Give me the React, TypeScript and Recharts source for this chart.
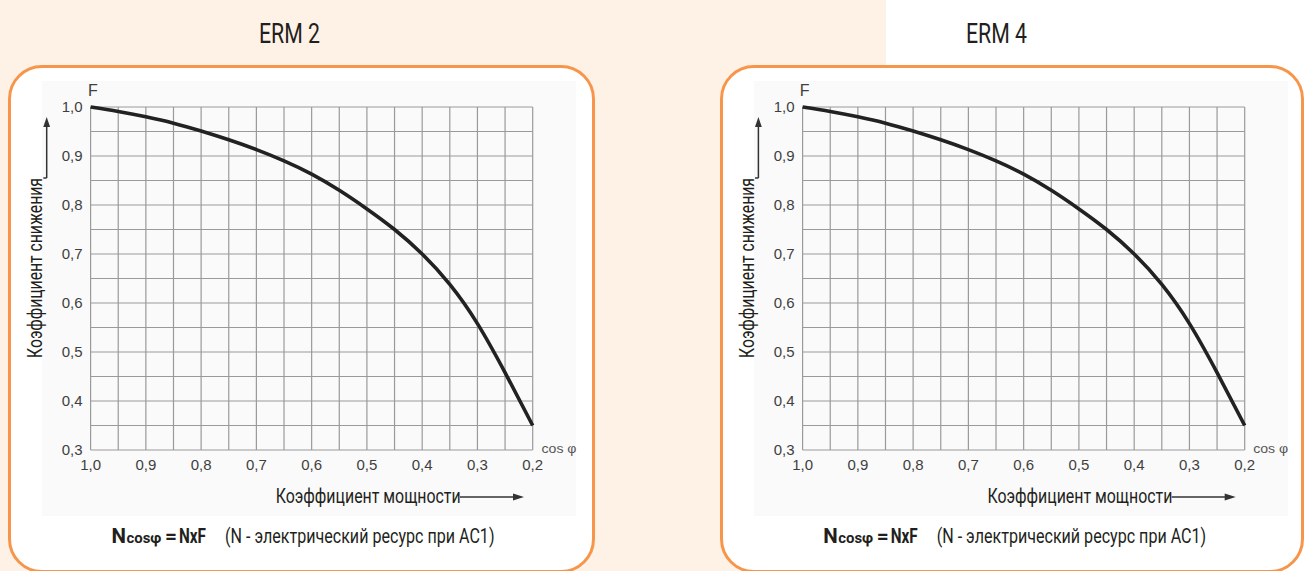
import React from 'react';
import { LineChart, Line, XAxis, YAxis, CartesianGrid } from 'recharts';

// ---- data ----
const cosPhi = [1.0, 0.95, 0.9, 0.85, 0.8, 0.75, 0.7, 0.65, 0.6, 0.55, 0.5, 0.45, 0.4, 0.35, 0.3, 0.25, 0.2];
const erm2F = [1.0, 0.991, 0.98, 0.967, 0.951, 0.933, 0.913, 0.89, 0.863, 0.83, 0.792, 0.75, 0.7, 0.638, 0.558, 0.458, 0.35];
const erm4F = [1.0, 0.991, 0.98, 0.967, 0.951, 0.933, 0.913, 0.89, 0.863, 0.83, 0.792, 0.75, 0.7, 0.638, 0.558, 0.458, 0.35];
const xTicks = [1.0, 0.95, 0.9, 0.85, 0.8, 0.75, 0.7, 0.65, 0.6, 0.55, 0.5, 0.45, 0.4, 0.35, 0.3, 0.25, 0.2];
const yTicks = [0.3, 0.35, 0.4, 0.45, 0.5, 0.55, 0.6, 0.65, 0.7, 0.75, 0.8, 0.85, 0.9, 0.95, 1.0];
const panelTitles = ['ERM 2', 'ERM 4'];
const yAxisTitle = 'Коэффициент снижения';
const xAxisTitle = 'Коэффициент мощности';
const formulaBold = ['N', 'cosφ', '=', 'NxF'];
const formulaNote = '(N - электрический ресурс при AC1)';

const fmt = (v: number) => (Math.round(v * 100) % 10 === 0 ? v.toFixed(1).replace('.', ',') : '');

const tickFont = { fill: '#3f3f3f', fontSize: 15, fontFamily: "'Liberation Sans', Arial, sans-serif" };
const condFont = "Roboto, 'Open Sans', sans-serif";

const PEACH = '#FEF1E6';
const ORANGE = '#F7964B';

function Chart({ values, left }: { values: number[]; left: number }) {
  const data = cosPhi.map((x, i) => ({ x, f: values[i] }));
  return (
    <div style={{ position: 'absolute', left, top: 0 }}>
      <LineChart width={600} height={520} data={data} margin={{ top: 107, right: 67.3, bottom: 40, left: 50.6 }}>
        <CartesianGrid stroke="#9a9a9a" strokeWidth={1.2} />
        <XAxis
          dataKey="x"
          type="number"
          domain={[0.2, 1]}
          reversed
          ticks={xTicks}
          interval={0}
          tickFormatter={fmt}
          tickLine={false}
          axisLine={false}
          tickMargin={3}
          height={30}
          tick={tickFont}
        />
        <YAxis
          type="number"
          domain={[0.3, 1]}
          ticks={yTicks}
          interval={0}
          tickFormatter={fmt}
          tickLine={false}
          axisLine={false}
          width={40}
          tick={tickFont}
        />
        <Line type="natural" dataKey="f" stroke="#222" strokeWidth={3.6} dot={false} isAnimationActive={false} />
      </LineChart>
    </div>
  );
}

function Overlay({ dx, title, titleX }: { dx: number; title: string; titleX: number }) {
  return (
    <g transform={`translate(${dx},0)`}>
      <text x={titleX} y={43} fontFamily={condFont} fontSize={28} fill="#231f20" textLength={61} lengthAdjust="spacingAndGlyphs">
        {title}
      </text>
      <text x={88} y={96} fontFamily="'Liberation Sans', Arial, sans-serif" fontSize={16} fill="#404040">F</text>
      {/* y axis title + arrow */}
      <text transform="translate(42,358) rotate(-90)" fontFamily={condFont} fontSize={20} fill="#231f20" textLength={180} lengthAdjust="spacingAndGlyphs">
        {yAxisTitle}
      </text>
      <line x1={43.3} y1={178} x2={46.7} y2={178} stroke="#333" strokeWidth={1.5} />
      <line x1={46.7} y1={178} x2={46.7} y2={125} stroke="#333" strokeWidth={1.5} />
      <polygon points="46.7,117 43.3,127 50.1,127" fill="#333" />
      {/* x axis title + arrow */}
      <text x={275.7} y={503} fontFamily={condFont} fontSize={20} fill="#231f20" textLength={185} lengthAdjust="spacingAndGlyphs">
        {xAxisTitle}
      </text>
      <line x1={460} y1={497} x2={515} y2={497} stroke="#333" strokeWidth={1.5} />
      <polygon points="524,497 513,493.6 513,500.4" fill="#333" />
      <text x={541.5} y={453} fontFamily="'Liberation Sans', Arial, sans-serif" fontSize={13} fill="#555" textLength={35} lengthAdjust="spacingAndGlyphs">
        cos φ
      </text>
      {/* formula */}
      <text x={111.5} y={543} fontFamily={condFont} fontSize={20} fontWeight={700} fill="#231f20" textLength={14.5} lengthAdjust="spacingAndGlyphs">{formulaBold[0]}</text>
      <text x={126.5} y={543} fontFamily={condFont} fontSize={15} fontWeight={700} fill="#231f20" textLength={35} lengthAdjust="spacingAndGlyphs">{formulaBold[1]}</text>
      <text x={165} y={543} fontFamily={condFont} fontSize={20} fontWeight={700} fill="#231f20" textLength={12} lengthAdjust="spacingAndGlyphs">{formulaBold[2]}</text>
      <text x={179} y={543} fontFamily={condFont} fontSize={20} fontWeight={700} fill="#231f20" textLength={27} lengthAdjust="spacingAndGlyphs">{formulaBold[3]}</text>
      <text x={225} y={543} fontFamily={condFont} fontSize={20} fill="#231f20" textLength={269.5} lengthAdjust="spacingAndGlyphs">{formulaNote}</text>
    </g>
  );
}

export default function App() {
  const offsets = [0, 711.7];
  const titleXs = [259, 254.3];
  return (
    <div style={{ position: 'absolute', left: 0, top: 0, width: 1310, height: 571, overflow: 'hidden', background: '#fff' }}>
      <div style={{ position: 'absolute', left: 0, top: 0, width: 886, height: 571, background: PEACH }} />
      {offsets.map((o, i) => (
        <React.Fragment key={i}>
          <div
            style={{
              position: 'absolute',
              left: 7.8 + o,
              top: 65,
              width: i === 0 ? 587 : 584.5,
              height: 508,
              boxSizing: 'border-box',
              border: `3px solid ${ORANGE}`,
              borderRadius: 34,
              background: '#fff',
            }}
          />
          <div style={{ position: 'absolute', left: 42 + o, top: 81, width: 534, height: 435, background: '#FAFAFA' }} />
        </React.Fragment>
      ))}
      <Chart values={erm2F} left={0} />
      <Chart values={erm4F} left={offsets[1]} />
      <svg width={1310} height={571} style={{ position: 'absolute', left: 0, top: 0, pointerEvents: 'none' }}>
        {offsets.map((o, i) => (
          <Overlay key={i} dx={o} title={panelTitles[i]} titleX={titleXs[i]} />
        ))}
      </svg>
    </div>
  );
}
